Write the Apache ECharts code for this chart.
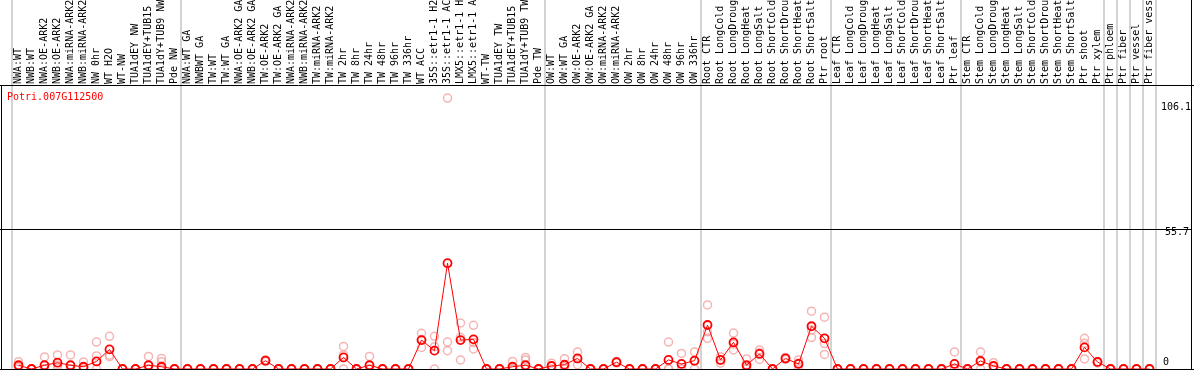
<!DOCTYPE html>
<html>
<head>
<meta charset="utf-8">
<script src="https://cdn.jsdelivr.net/npm/echarts@6/dist/echarts.min.js"></script>
<style>
html,body{margin:0;padding:0;background:#fff;}
#chart{width:1194px;height:370px;}
</style>
</head>
<body>
<div id="chart"></div>
<script>
const geneTitle = 'Potri.007G112500';
const categories = [
  'NWA:WT','NWB:WT','NWA:OE-ARK2','NWB:OE-ARK2','NWA:miRNA-ARK2','NWB:miRNA-ARK2','NW 0hr','WT H2O','WT-NW','TUA1dEY NW','TUA1dEY+TUB15 NW','TUA1dY+TUB9 NW','Pde NW',
  'NWA:WT GA','NWBWT GA','TW:WT','TW:WT GA','NWA:OE-ARK2 GA','NWB:OE-ARK2 GA','TW:OE-ARK2','TW:OE-ARK2 GA','NWA:miRNA-ARK2','NWB:miRNA-ARK2','TW:miRNA-ARK2','TW:miRNA-ARK2','TW 2hr','TW 8hr','TW 24hr','TW 48hr','TW 96hr','TW 336hr','WT ACC','35S::etr1-1 H2O','35S::etr1-1 ACC','LMX5::etr1-1 H2O','LMX5::etr1-1 ACC','WT-TW','TUA1dEY TW','TUA1dEY+TUB15 TW','TUA1dY+TUB9 TW','Pde TW',
  'OW:WT','OW:WT GA','OW:OE-ARK2','OW:OE-ARK2 GA','OW:miRNA-ARK2','OW:miRNA-ARK2','OW 2hr','OW 8hr','OW 24hr','OW 48hr','OW 96hr','OW 336hr',
  'Root CTR','Root LongCold','Root LongDrought','Root LongHeat','Root LongSalt','Root ShortCold','Root ShortDrought','Root ShortHeat','Root ShortSalt','Ptr root',
  'Leaf CTR','Leaf LongCold','Leaf LongDrought','Leaf LongHeat','Leaf LongSalt','Leaf ShortCold','Leaf ShortDrought','Leaf ShortHeat','Leaf ShortSalt','Ptr leaf',
  'Stem CTR','Stem LongCold','Stem LongDrought','Stem LongHeat','Stem LongSalt','Stem ShortCold','Stem ShortDrought','Stem ShortHeat','Stem ShortSalt','Ptr shoot','Ptr xylem',
  'Ptr phloem','Ptr fiber','Ptr vessel','Ptr fiber vessel'
];
// indices of category boundaries where grey separators are drawn
const groupBoundaries = [0, 13, 41, 53, 63, 73, 84, 85, 86, 87, 88];

const meanValues = [
  1.5,0,1.5,2.5,1.5,0.9,3.0,7.8,0,0,1.5,0.9,0,
  0,0,0,0,0,0,3.3,0,0,0,0,0,4.6,0,1.5,0,0,0,11.5,7.3,42.1,11.5,11.8,0,0,0.9,1.5,0,
  1.2,1.7,4.2,0,0,2.7,0,0,0,3.6,2.0,3.3,
  17.5,3.6,10.6,1.5,6.0,0,4.2,2.0,17.0,12.2,
  0,0,0,0,0,0,0,0,0,2.0,
  0,3.2,1.2,0,0,0,0,0,0,8.6,2.8,
  0,0,0,0
];
const repA = [
  2.9,0,4.8,5.6,5.6,2.8,10.7,13.0,0,0,5.0,4.2,0,
  0,0,0,0,0,0,3.6,0,0,0,0,0,9.0,0,5.0,0,0,0,14.2,13.0,107.8,18.3,17.4,0,0,3.0,4.6,0,
  2.3,4.1,6.8,0,0,3.0,0,0,0,10.7,6.2,6.8,
  25.5,4.9,14.3,4.0,7.6,0,4.6,3.6,23.0,20.6,
  0,0,0,0,0,0,0,0,0,6.8,
  0,6.8,2.5,0,0,0,0,0,0,12.2,3.0,
  0,0,0,0
];
const repB = [
  1.0,0,0,1.6,0,0,5.2,5.5,0,0,0,2.9,0,
  0,0,0,0,0,0,3.3,0,0,0,0,0,5.6,0,0,0,0,0,11.7,8.9,10.7,12.6,10.5,0,0,0,3.6,0,
  1.2,1.0,4.1,0,0,2.7,0,0,0,0,0,3.2,
  14.8,3.6,9.9,0.5,6.6,0,4.2,2.4,15.5,10.1,
  0,0,0,0,0,0,0,0,0,0,
  0,2.8,1.1,0,0,0,0,0,0,10.2,2.8,
  0,0,0,0
];
const repC = [
  0.6,0,0,0.3,0,0,0,4.9,0,0,0,0,0,
  0,0,0,0,0,0,3.0,0,0,0,0,0,0,0,0,0,0,0,8.6,0,7.3,3.6,8.0,0,0,0,0,0,
  0,0,1.7,0,0,2.4,0,0,0,0,0,0,
  12.2,2.3,7.6,0,3.8,0,3.8,0,12.5,5.8,
  0,0,0,0,0,0,0,0,0,0,
  0,0,0,0,0,0,0,0,0,4.0,2.4,
  0,0,0,0
];
const yTickValues = [106.1, 55.7, 0];
const yTickLabels = ['106.1', '55.7', '0'];
const yMax = 112.6;

const chart = echarts.init(document.getElementById('chart'), null, {renderer: 'canvas'});
const MONO = 'DejaVu Sans Mono';
const sepInterval = function (idx) { return groupBoundaries.indexOf(idx) >= 0; };
const sepLine = {show: true, interval: sepInterval, lineStyle: {color: '#c4c4c4', width: 1.5}};

function repPoints(arr) { return arr.map(function (v, i) { return [i, v]; }); }
const repStyle = {color: 'rgba(0,0,0,0)', borderColor: '#f2a2a2', borderWidth: 1.5};

chart.setOption({
  animation: false,
  backgroundColor: '#fff',
  grid: [
    {left: 12, right: 38, top: 86, bottom: 1, outerBoundsMode: 'none', containLabel: false},
    {left: 12, right: 38, top: 0, height: 85, outerBoundsMode: 'none', containLabel: false}
  ],
  xAxis: [
    {
      type: 'category', gridIndex: 0, data: categories, position: 'top', boundaryGap: true,
      axisLine: {show: false}, axisTick: {show: false},
      axisLabel: {show: true, interval: 0, rotate: 90, margin: 2, align: 'left', verticalAlign: 'middle', fontFamily: MONO, fontSize: 10, color: '#000', hideOverlap: false},
      splitLine: sepLine
    },
    {
      type: 'category', gridIndex: 1, data: categories, boundaryGap: true,
      axisLine: {show: false}, axisTick: {show: false}, axisLabel: {show: false},
      splitLine: sepLine
    }
  ],
  yAxis: [
    {type: 'value', gridIndex: 0, min: 0, max: yMax, show: true, axisLine: {show: false}, axisTick: {show: false}, axisLabel: {show: false}, splitLine: {show: false}},
    {type: 'value', gridIndex: 1, show: false, splitLine: {show: false}}
  ],
  series: [
    {type: 'scatter', xAxisIndex: 0, yAxisIndex: 0, data: repPoints(repA), symbol: 'circle', symbolSize: 8, itemStyle: repStyle, clip: false, z: 2},
    {type: 'scatter', xAxisIndex: 0, yAxisIndex: 0, data: repPoints(repB), symbol: 'circle', symbolSize: 8, itemStyle: repStyle, clip: false, z: 2},
    {type: 'scatter', xAxisIndex: 0, yAxisIndex: 0, data: repPoints(repC), symbol: 'circle', symbolSize: 8, itemStyle: repStyle, clip: false, z: 2},
    {
      type: 'line', xAxisIndex: 0, yAxisIndex: 0, data: meanValues, symbol: 'circle', symbolSize: 8, showAllSymbol: true,
      lineStyle: {color: '#ff0000', width: 1},
      itemStyle: {color: 'rgba(0,0,0,0)', borderColor: '#ff0000', borderWidth: 1.8},
      clip: false, z: 5
    }
  ]
});

const y55 = chart.convertToPixel({yAxisIndex: 0}, yTickValues[1]);
const labelOffsets = [5.5, 3, -7];
const labelX = [1161, 1165, 1163];
const graphics = [
  {type: 'line', shape: {x1: 0, y1: 85.5, x2: 1194, y2: 85.5}, style: {stroke: '#000', lineWidth: 1}, z: 10},
  {type: 'line', shape: {x1: 1.5, y1: 85.5, x2: 1.5, y2: 370}, style: {stroke: '#000', lineWidth: 1}, z: 10},
  {type: 'line', shape: {x1: 1191.5, y1: 0, x2: 1191.5, y2: 370}, style: {stroke: '#000', lineWidth: 1}, z: 10},
  {type: 'line', shape: {x1: 0, y1: 369.5, x2: 1194, y2: 369.5}, style: {stroke: '#000', lineWidth: 1}, z: 10},
  {type: 'line', shape: {x1: 0, y1: Math.round(y55) + 0.5, x2: 1192, y2: Math.round(y55) + 0.5}, style: {stroke: '#000', lineWidth: 1}, z: 1},
  {type: 'text', left: 7, top: 92, style: {text: geneTitle, fill: '#ff0000', font: '10px "' + MONO + '"'}, z: 10}
];
yTickValues.forEach(function (v, i) {
  const py = chart.convertToPixel({yAxisIndex: 0}, v);
  graphics.push({type: 'text', x: labelX[i], y: py + labelOffsets[i], style: {text: yTickLabels[i], fill: '#000', font: '10px "' + MONO + '"', textVerticalAlign: 'middle', verticalAlign: 'middle'}, z: 10});
});
chart.setOption({graphic: graphics});
</script>
</body>
</html>
